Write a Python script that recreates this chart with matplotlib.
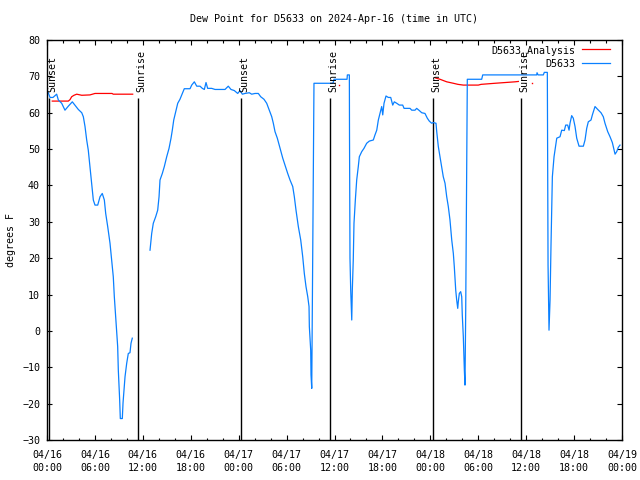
import numpy as np
import pandas as pd
import matplotlib
matplotlib.use("Agg")
import matplotlib.pyplot as plt
import matplotlib.dates as mdates

plt.rcParams['font.family'] = ['DejaVu Sans Mono']
plt.rcParams['font.size'] = 7.2

BASE = pd.Timestamp('2024-04-16 00:00')

# ---- data (hours since 2024-04-16 00:00 UTC, dew point degF) ----
blue_h = [0.16, 0.38, 0.75, 1.21, 1.42, 1.84, 2.25, 2.67, 3.17, 3.59, 3.92, 4.35, 4.55, 4.76,
          4.97, 5.17, 5.38, 5.60, 5.80, 6.01, 6.35, 6.64, 6.92, 7.18, 7.35, 7.60, 7.89, 8.10,
          8.30, 8.43, 8.60, 8.77, 8.85, 8.93, 9.10, 9.18, 9.43, 9.52, 9.64, 9.77, 9.98, 10.18,
          10.39, 10.52, 10.68,
          11.80,
          12.90, 13.11, 13.31, 13.61, 13.86, 14.03, 14.15, 14.44, 14.69, 14.99, 15.28, 15.53,
          15.69, 15.87, 16.12, 16.37, 16.65, 16.94, 17.19, 17.91, 18.12, 18.45, 18.75, 19.16,
          19.45, 19.70, 19.91, 20.12, 20.62, 21.04, 22.29, 22.70, 23.04, 23.45, 23.88, 24.17,
          24.46, 24.79, 25.33, 25.63, 26.05, 26.46, 26.76, 27.17, 27.51, 27.84, 28.14, 28.34,
          28.55, 28.84, 29.18, 29.52, 29.80, 30.14, 30.43, 30.77, 30.97, 31.18, 31.47, 31.77,
          32.02, 32.22, 32.43, 32.65, 32.81, 32.85, 33.02, 33.06, 33.15, 33.22, 33.35, 33.43,
          35.81, 35.94, 37.57, 37.61, 37.86, 37.88, 37.94, 38.03, 38.16, 38.23, 38.35, 38.44,
          38.61, 38.78, 38.98, 39.11, 39.41, 39.69, 40.03, 40.36, 40.86, 41.07, 41.29, 41.49,
          41.70, 41.91, 42.04, 42.20, 42.45, 42.74, 43.04, 43.29, 43.49, 43.79, 44.12, 44.54,
          44.71, 45.46, 45.67, 46.08, 46.29, 46.62, 46.92, 47.33, 47.62, 47.87, 48.17, 48.37,
          48.71, 48.80, 49.00, 49.21, 49.42, 49.62, 49.84, 50.05, 50.25, 50.46, 50.68, 50.88,
          51.00, 51.18, 51.30, 51.43, 51.50, 51.63, 51.80, 51.93, 52.00, 52.13, 52.26, 52.34,
          52.43, 52.56, 52.63, 54.43, 54.56, 59.86, 61.32, 61.36, 61.49, 62.15, 62.27, 62.65,
          62.68, 62.74, 62.86, 62.99, 63.11, 63.28, 63.49, 63.70, 63.83, 64.24, 64.45, 64.78,
          64.95, 65.20, 65.37, 65.49, 65.70, 65.90, 66.12, 66.33, 66.62, 67.16, 67.37, 67.58,
          67.78, 68.12, 68.29, 68.62, 68.96, 69.37, 69.66, 69.87, 70.21, 70.50, 70.79, 71.13,
          71.34, 71.54, 71.75]
blue_v = [65.5, 64.2, 64.2, 65.1, 63.5, 62.6, 60.7, 61.8, 63.0, 61.8, 60.9, 60.0, 58.9, 56.2,
          52.5, 49.7, 45.2, 40.6, 36.0, 34.6, 34.6, 36.9, 37.8, 36.0, 32.3, 28.7, 24.1, 19.5,
          14.9, 9.4, 3.9, -1.6, -4.3, -10.8, -19.0, -24.1, -24.1, -19.8, -16.3, -12.6, -8.9, -6.2,
          -6.0, -3.4, -2.0,
          np.nan,
          22.2, 26.8, 29.6, 31.4, 33.2, 36.9, 41.5, 43.3, 45.2, 47.9, 50.2, 53.0,
          55.2, 58.0, 60.3, 62.6, 63.7, 65.3, 66.6, 66.6, 67.6, 68.5, 67.3, 67.3,
          66.7, 66.4, 68.3, 66.7, 66.7, 66.4, 66.4, 67.3, 66.4, 66.1, 65.3, 66.1,
          65.1, 65.3, 65.5, 65.1, 65.3, 65.3, 64.4, 63.7, 62.6, 60.7, 58.9, 57.1,
          54.8, 53.0, 50.2, 47.5, 45.6, 43.3, 41.5, 39.7, 36.9, 33.2, 28.7, 25.0,
          20.4, 15.8, 12.2, 9.4, 6.7, 1.2, -5.3, -12.1, -15.8, 5.7, 47.0, 68.1,
          68.1, 69.2, 69.2, 70.4, 70.4, 53.4, 20.0, 11.2, 3.0, 11.2, 19.5, 29.6,
          36.0, 41.5, 45.2, 47.9, 49.3, 50.2, 51.6, 52.2, 52.5, 53.9, 55.2, 58.0,
          59.8, 61.7, 59.4, 62.6, 64.6, 64.2, 64.2, 62.1, 63.0, 62.6, 62.1, 62.1,
          61.2, 61.2, 60.7, 60.7, 61.2, 60.6, 60.0, 59.8, 58.5, 57.7, 57.1, 57.3,
          57.1, 54.8, 50.7, 47.9, 45.2, 42.4, 40.6, 36.9, 34.2, 30.5, 25.0, 21.3,
          17.7, 11.2, 8.5, 6.2, 8.0, 10.3, 10.8, 9.4, 4.4, -1.6, -10.8, -14.9,
          5.7, 47.9, 69.2, 69.2, 70.4, 70.4, 70.4, 71.0, 70.4, 70.4, 71.1, 71.1,
          53.4, 18.1, 0.2, 8.5, 23.6, 42.4, 47.9, 51.1, 53.0, 53.4, 55.2, 55.1,
          56.6, 56.6, 55.2, 57.1, 59.2, 58.5, 56.2, 53.0, 50.8, 50.8, 52.5, 55.7,
          57.5, 58.0, 59.4, 61.7, 60.9, 60.0, 58.9, 57.1, 54.8, 53.4, 51.8, 48.6,
          49.3, 50.5, 51.1]

red_h = [0.66, 2.67, 2.88, 3.09, 3.38, 3.72, 4.35, 5.38, 6.01, 8.14, 8.30, 10.73,
         30.0,
         48.59, 49.21, 50.05, 50.88, 51.46, 52.13, 54.01, 54.35, 56.10, 57.98, 58.60, 59.02]
red_v = [63.2, 63.2, 63.6, 64.4, 64.8, 65.1, 64.8, 64.9, 65.3, 65.3, 65.1, 65.1,
         np.nan,
         69.6, 69.2, 68.5, 68.1, 67.8, 67.6, 67.6, 67.8, 68.1, 68.4, 68.5, 68.6]
red_dot_h = [36.60, 60.67]
red_dot_v = [67.6, 68.1]

sunset_h = [0.30, 24.33, 48.37]
sunrise_h = [11.42, 35.45, 59.40]
sun_line_top = 64.0
sun_label_y = 65.7

y_ticks = list(range(-30, 81, 10))
title = "Dew Point for D5633 on 2024-Apr-16 (time in UTC)"
ylabel = "degrees F"
x_start, x_end = 0, 72


def T(h):
    return BASE + pd.to_timedelta(np.asarray(h, dtype=float), unit='h')


BLUE = '#0a80ff'
RED = '#ff0000'

fig = plt.figure(figsize=(6.4, 4.8), dpi=100)
ax = fig.add_axes([47 / 640, 40 / 480, 575 / 640, 400 / 480])

ax.vlines(T(sunset_h), -30, sun_line_top, color='black', lw=1.0)
ax.vlines(T(sunrise_h), -30, sun_line_top, color='black', lw=1.0)
for h in sunset_h:
    ax.annotate('Sunset', (T([h])[0], sun_label_y), xytext=(2.2, 0), textcoords='offset points',
                rotation=90, ha='center', va='bottom')
for h in sunrise_h:
    ax.annotate('Sunrise', (T([h])[0], sun_label_y), xytext=(2.2, 0), textcoords='offset points',
                rotation=90, ha='center', va='bottom')

ax.plot(T(red_h), red_v, color=RED, lw=0.9, label='D5633_Analysis')
ax.plot(T(red_dot_h), red_dot_v, ls='none', marker='s', ms=1.0, mew=0, color=RED)
ax.plot(T(blue_h), blue_v, color=BLUE, lw=0.9, label='D5633')

ax.set_xlim(T([x_start])[0], T([x_end])[0])
ax.set_ylim(-30, 80)
ax.set_yticks(y_ticks)
ax.xaxis.set_major_locator(mdates.HourLocator(byhour=[0, 6, 12, 18]))
ax.xaxis.set_minor_locator(mdates.HourLocator(interval=2))
ax.xaxis.set_major_formatter(mdates.DateFormatter('%m/%d\n%H:%M'))
ax.tick_params(which='both', direction='in', top=True, right=True, width=0.8, color='black')
ax.tick_params(which='major', length=3.6)
ax.tick_params(which='minor', length=1.8)
ax.tick_params(axis='x', which='major', pad=7)
ax.tick_params(axis='y', which='major', pad=5)
for lab in ax.get_xticklabels():
    lab.set_linespacing(1.45)
for s in ax.spines.values():
    s.set_linewidth(1.0)

leg = ax.legend(loc='upper right', bbox_to_anchor=(1 - 10 / 575, 1 - 3 / 400), frameon=False,
                markerfirst=False, handlelength=2.8, handletextpad=0.7, labelspacing=0.3,
                borderpad=0.2, borderaxespad=0.0, fontsize=7.2)

fig.text(334 / 640, 1 - 19 / 480, title, ha='center', va='center')
fig.text(11 / 640, 1 - 240 / 480, ylabel, ha='center', va='center', rotation=90)

fig.savefig('out.png', dpi=100)
